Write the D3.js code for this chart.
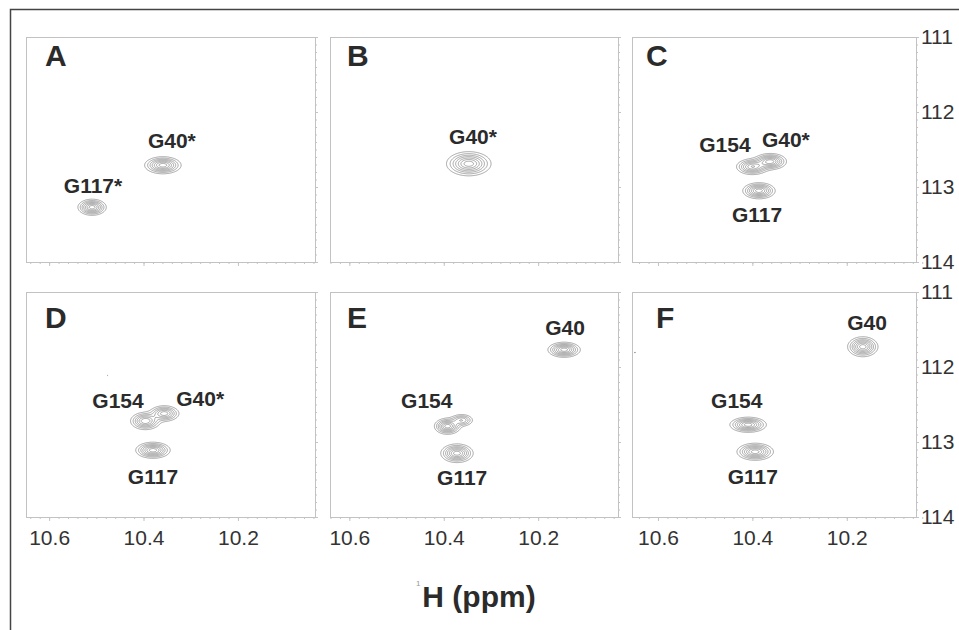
<!DOCTYPE html>
<html>
<head>
<meta charset="utf-8">
<title>Glycine amide region</title>
<style>
  body { margin: 0; background: #fff; }
  svg text { font-family: "Liberation Sans", Arial, sans-serif; fill: #2b2b2b; }
  .box { fill: none; stroke: #c2c2c2; stroke-width: 1px; }
  .axis line { stroke: #c4c4c4; }
  .axis text { font-size: 21px; fill: #333; }
  .contour { fill: none; stroke: #808080; stroke-width: 0.7px; }
  .peak-label { font-size: 21px; font-weight: bold; text-anchor: middle; }
  .panel-letter { font-size: 30px; font-weight: bold; }
</style>
</head>
<body>
<div id="chart"></div>
<script src="https://d3js.org/d3.v7.min.js"></script>
<script>
// values
const panelNames = ["A", "B", "C", "D", "E", "F"];
const xTicks = [10.6, 10.4, 10.2];
const yTicks = [111, 112, 113, 114];
const contourLevels = [0.1, 0.2, 0.32, 0.45, 0.6, 0.75, 0.9];

// peaks: [1H ppm, 15N ppm, width 1H, width 15N, height]
const peaksA = [[10.359, 112.71, 0.018, 0.053, 1], [10.509, 113.27, 0.014, 0.05, 1]];
const peaksB = [[10.347, 112.69, 0.022, 0.075, 1]];
const peaksC = [[10.400, 112.73, 0.016, 0.05, 0.9], [10.362, 112.66, 0.016, 0.05, 1],
                [10.386, 113.05, 0.016, 0.05, 1]];
const peaksD = [[10.396, 112.72, 0.015, 0.055, 0.9], [10.356, 112.62, 0.015, 0.05, 0.85],
                [10.380, 113.11, 0.017, 0.05, 1], [10.477, 112.11, 0.002, 0.012, 0.12]];
const peaksE = [[10.145, 111.77, 0.016, 0.047, 1], [10.392, 112.79, 0.013, 0.05, 1],
                [10.362, 112.71, 0.012, 0.04, 0.6], [10.372, 113.15, 0.016, 0.058, 1]];
const peaksF = [[10.166, 111.73, 0.015, 0.062, 1], [10.409, 112.77, 0.018, 0.047, 1],
                [10.394, 113.13, 0.018, 0.053, 1], [10.649, 111.81, 0.004, 0.008, 0.12]];

// labels: [text, 1H ppm, 15N ppm]
const labelsA = [["G40*", 10.340, 112.48], ["G117*", 10.507, 113.08]];
const labelsB = [["G40*", 10.338, 112.43]];
const labelsC = [["G154", 10.458, 112.53], ["G40*", 10.329, 112.47], ["G117", 10.390, 113.47]];
const labelsD = [["G154", 10.454, 112.55], ["G40*", 10.280, 112.52], ["G117", 10.380, 113.56]];
const labelsE = [["G40", 10.143, 111.57], ["G154", 10.436, 112.55], ["G117", 10.361, 113.57]];
const labelsF = [["G40", 10.157, 111.51], ["G154", 10.433, 112.55], ["G117", 10.399, 113.56]];

const allPeaks = [peaksA, peaksB, peaksC, peaksD, peaksE, peaksF];
const allLabels = [labelsA, labelsB, labelsC, labelsD, labelsE, labelsF];

// layout
const width = 959, height = 630;
const colLeft = [26, 330, 632];
const colWidth = [289, 288, 284];
const colStart = [10.649, 10.641, 10.655];   // 1H ppm at left edge of each column
const pxPerPpm = 472;
const rowTop = [37, 292];
const panelH = 225;
const letterDx = [19, 17, 14, 19, 17, 24];

const svg = d3.select("#chart").append("svg")
    .attr("width", width)
    .attr("height", height);

// outer frame (top and left only)
svg.append("path")
    .attr("d", `M10.5,630 V9.5 H959`)
    .attr("fill", "none")
    .attr("stroke", "#444")
    .attr("stroke-width", 1.5);

panelNames.forEach((name, k) => {
  const col = k % 3, row = Math.floor(k / 3);
  const w = colWidth[col];
  const x = d3.scaleLinear()
      .domain([colStart[col], colStart[col] - w / pxPerPpm])
      .range([0, w]);
  const y = d3.scaleLinear().domain([111, 114]).range([0, panelH]);

  const g = svg.append("g")
      .attr("transform", `translate(${colLeft[col]},${rowTop[row]})`);

  // contour grid
  const peaks = allPeaks[k];
  const nx = w, ny = panelH;
  const values = new Float64Array(nx * ny);
  for (let j = 0; j < ny; j++) {
    const n = y.invert(j + 0.5);
    for (let i = 0; i < nx; i++) {
      const hppm = x.invert(i + 0.5);
      let v = 0;
      for (const [h0, n0, sh, sn, a] of peaks) {
        const dh = (hppm - h0) / sh, dn = (n - n0) / sn;
        v += a * Math.exp(-0.5 * (dh * dh + dn * dn));
      }
      values[j * nx + i] = v;
    }
  }
  const contours = d3.contours().size([nx, ny]).thresholds(contourLevels)(values);
  g.selectAll("path.contour")
    .data(contours)
    .join("path")
      .attr("class", "contour")
      .attr("d", d3.geoPath());

  // minor and major ticks, bottom
  const minorX = d3.range(1004, 1066, 2).map(v => v / 100);
  g.append("g").attr("class", "axis")
      .attr("transform", `translate(0,${panelH})`)
      .call(d3.axisBottom(x).tickValues(minorX).tickSize(2).tickFormat(""))
      .call(a => a.select(".domain").remove());
  g.append("g").attr("class", "axis")
      .attr("transform", `translate(0,${panelH})`)
      .call(d3.axisBottom(x).tickValues(xTicks).tickSize(4).tickPadding(9)
        .tickFormat(row === 1 ? d3.format(".1f") : ""))
      .call(a => a.select(".domain").remove());

  // minor and major ticks, right
  const minorY = d3.range(1110, 1141).map(v => v / 10);
  g.append("g").attr("class", "axis")
      .attr("transform", `translate(${w},0)`)
      .call(d3.axisRight(y).tickValues(minorY).tickSize(2).tickFormat(""))
      .call(a => a.select(".domain").remove());
  g.append("g").attr("class", "axis")
      .attr("transform", `translate(${w},0)`)
      .call(d3.axisRight(y).tickValues(yTicks).tickSize(3).tickPadding(2)
        .tickFormat(col === 2 ? d3.format("d") : ""))
      .call(a => a.select(".domain").remove());

  g.append("rect")
      .attr("class", "box")
      .attr("x", 0.5).attr("y", 0.5)
      .attr("width", w).attr("height", panelH);

  g.append("text")
      .attr("class", "panel-letter")
      .attr("x", letterDx[k])
      .attr("y", row === 0 ? 29 : 36)
      .text(name);

  g.selectAll("text.peak-label")
    .data(allLabels[k])
    .join("text")
      .attr("class", "peak-label")
      .attr("x", d => x(d[1]))
      .attr("y", d => y(d[2]))
      .text(d => d[0]);
});

// axis title
svg.append("text")
    .attr("x", 416).attr("y", 586)
    .attr("font-size", 8)
    .style("fill", "#999")
    .text("1");
svg.append("text")
    .attr("x", 479).attr("y", 607)
    .attr("text-anchor", "middle")
    .attr("font-size", 30)
    .attr("font-weight", "bold")
    .text("H (ppm)");
</script>
</body>
</html>
